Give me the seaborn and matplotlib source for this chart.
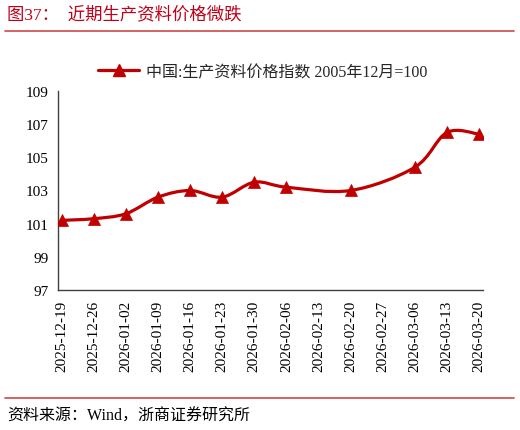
import numpy as np
import pandas as pd
import matplotlib
matplotlib.use("Agg")
import matplotlib.pyplot as plt
import seaborn as sns
from matplotlib.path import Path
from matplotlib.patches import PathPatch
from matplotlib.lines import Line2D

dates = ["2025-12-19", "2025-12-26", "2026-01-02", "2026-01-09", "2026-01-16",
         "2026-01-23", "2026-01-30", "2026-02-06", "2026-02-13", "2026-02-20",
         "2026-02-27", "2026-03-06", "2026-03-13", "2026-03-20"]
values = [101.2, 101.3, 101.6, 102.6, 103.0, 102.6, 103.5, 103.2, np.nan, 103.0,
          np.nan, 104.4, 106.5, 106.4]
y_ticks = [97, 99, 101, 103, 105, 107, 109]

series_name = "中国:生产资料价格指数 2005年12月=100"
title = "图37：  近期生产资料价格微跌"
source = "资料来源：Wind，浙商证券研究所"

RED = "#C00000"

sns.set_style("white")
plt.rcParams["font.family"] = ["Liberation Serif", "Noto Sans CJK SC", "DejaVu Sans"]
plt.rcParams["axes.unicode_minus"] = False


def smooth_path(x, y):
    """Catmull-Rom style smoothing (like Excel's smoothed line) as bezier path."""
    pts = np.column_stack([x, y])
    n = len(pts)
    verts = [pts[0]]
    codes = [Path.MOVETO]
    for i in range(n - 1):
        p0 = pts[i - 1] if i > 0 else pts[i]
        p1 = pts[i]
        p2 = pts[i + 1]
        p3 = pts[i + 2] if i + 2 < n else pts[i + 1]
        c1 = p1 + (p2 - p0) / 6.0
        c2 = p2 - (p3 - p1) / 6.0
        verts += [c1, c2, p2]
        codes += [Path.CURVE4] * 3
    return Path(verts, codes)


df = pd.DataFrame({"date": dates, "value": values})
df["pos"] = np.arange(len(df))
obs = df.dropna()

fig = plt.figure(figsize=(5.2, 4.31), dpi=100)
ax = fig.add_axes([58 / 520, 1 - 291 / 431, (483 - 58) / 520, (291 - 92) / 431])

ax.add_patch(PathPatch(smooth_path(obs["pos"].values, obs["value"].values),
                       fill=False, edgecolor=RED, lw=2.3, capstyle="round", zorder=2))
sns.scatterplot(data=obs, x="pos", y="value", marker="^", s=75, color=RED,
                edgecolor=RED, linewidth=0.5, legend=False, ax=ax, zorder=3)

ax.set_xlim(-0.115, len(dates) - 1 + 0.125)
ax.set_ylim(97, 109)
ax.set_yticks(y_ticks)
ax.set_yticklabels([str(t) for t in y_ticks], fontsize=11)
ax.set_xticks(df["pos"])
ax.set_xticklabels(dates, rotation=90, fontsize=11)
ax.set_xlabel("")
ax.set_ylabel("")
for side in ["top", "right"]:
    ax.spines[side].set_visible(False)
for side in ["left", "bottom"]:
    ax.spines[side].set_color("#404040")
    ax.spines[side].set_linewidth(1.0)
ax.tick_params(axis="both", direction="out", length=4, width=1, color="#404040",
               labelcolor="black", pad=3)

handle = Line2D([], [], color=RED, lw=2.3, marker="^", markersize=8)
fig.legend([handle], [series_name], loc="center", bbox_to_anchor=(0.505, 1 - 73 / 431),
           frameon=False, fontsize=11.5, handlelength=2.6, handletextpad=0.4)

# header and footer
fig.text(7 / 520, 1 - 15 / 431, title, color="#C0001A", fontsize=12.5, va="center", ha="left")
fig.add_artist(Line2D([5 / 520, 514 / 520], [1 - 31.5 / 431] * 2, color="#D04848", lw=1.2))
fig.add_artist(Line2D([5 / 520, 514 / 520], [1 - 399 / 431] * 2, color="#D04848", lw=1.2))
fig.text(7 / 520, 1 - 417 / 431, source, color="black", fontsize=11.5, va="center", ha="left")

fig.savefig("out.png", dpi=100)
